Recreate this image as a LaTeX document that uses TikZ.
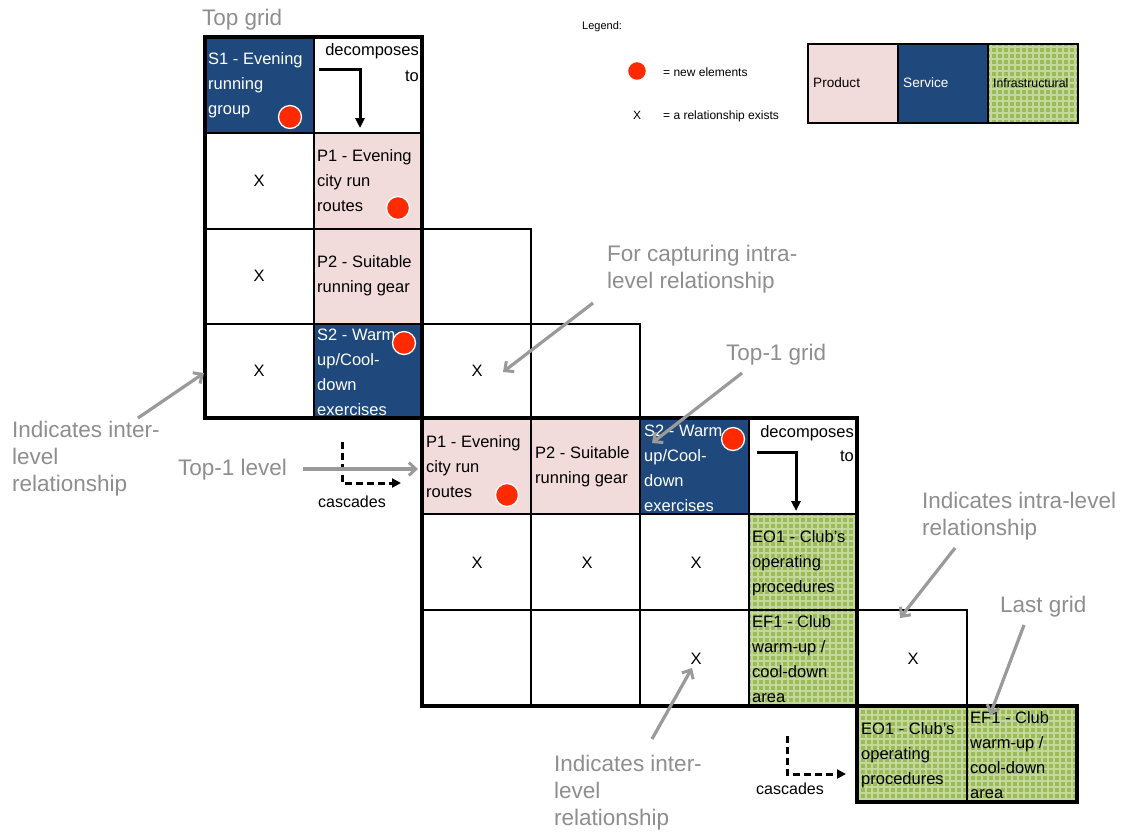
\documentclass[tikz,border=0pt]{standalone}
\usepackage{fontspec}
\setmainfont{Liberation Sans}
\usetikzlibrary{arrows.meta}

\definecolor{svcblue}{HTML}{1F497D}
\definecolor{prodpink}{HTML}{F2DCDB}
\definecolor{infragreen}{HTML}{9BBB59}
\definecolor{infralight}{HTML}{C4D89C}
\definecolor{dotred}{HTML}{FF2A00}
\definecolor{notegray}{HTML}{8E8E8E}
\definecolor{arrowgray}{HTML}{9A9A9A}

% green hatched fill used for infrastructural elements
\newcommand\infrafill[4]{%
  \fill[infragreen] (#1,#2) rectangle (#3,#4);
  \begin{scope}
    \clip (#1,#2) rectangle (#3,#4);
    \foreach \k in {0,...,19} {
      \draw[infralight, line width=1.4pt] ({#1+3+6*\k},#2) -- ({#1+3+6*\k},#4);
      \draw[infralight, line width=1.4pt] (#1,{#2+3+6*\k}) -- (#3,{#2+3+6*\k});
    }
  \end{scope}}

\tikzset{
  thinline/.style={draw=black, line width=1.1pt},
  midline/.style={draw=black, line width=2.6pt},
  gridborder/.style={draw=black, line width=3.8pt},
  celltext/.style={anchor=west, align=left, inner sep=0pt,
    font=\fontsize{16.5}{25}\selectfont},
  svctext/.style={celltext, text=white},
  relx/.style={inner sep=0pt, font=\fontsize{16.5}{20}\selectfont},
  newdot/.style={circle, fill=dotred, draw=white, line width=1.3pt,
    minimum size=23pt, inner sep=0pt},
  note/.style={anchor=west, align=left, inner sep=0pt, text=notegray,
    font=\fontsize{22.5}{27}\selectfont},
  notearrow/.style={draw=arrowgray, line width=3.2pt,
    -{Straight Barb[length=7pt, width=13pt, line width=3pt]}},
  decomparrow/.style={draw=black, line width=3pt,
    -{Triangle[length=10pt, width=9pt]}},
  cascarrow/.style={draw=black, line width=3pt, dash pattern=on 7pt off 4pt,
    -{Triangle[length=9pt, width=9pt]}},
  smalltext/.style={inner sep=0pt, font=\fontsize{16}{19}\selectfont},
  legtext/.style={anchor=west, inner sep=0pt, font=\fontsize{12}{14}\selectfont},
}

\begin{document}
\begin{tikzpicture}[x=1pt, y=-1pt]
\useasboundingbox (0,0) rectangle (1129,831);
\fill[white] (0,0) rectangle (1129,831);

% ---------------- top grid ----------------
\fill[svcblue] (205,37) rectangle (314,133);
\fill[prodpink] (314,133) rectangle (422,229);
\fill[prodpink] (314,229) rectangle (422,324);
\fill[svcblue] (314,324) rectangle (422,418);
\draw[thinline] (314,37) -- (314,418);
\draw[thinline] (205,229) -- (531,229) -- (531,418);
\draw[thinline] (205,324) -- (640,324) -- (640,418) -- (422,418);
\draw[midline] (205,133) -- (422,133);
\draw[gridborder] (205,37) rectangle (422,418);

% ---------------- top-1 grid ----------------
\fill[prodpink] (422,418) rectangle (531,514);
\fill[prodpink] (531,418) rectangle (640,514);
\fill[svcblue] (640,418) rectangle (749,514);
\infrafill{749}{514}{857}{610}
\infrafill{749}{610}{857}{706}
\draw[thinline] (531,418) -- (531,706);
\draw[thinline] (640,418) -- (640,706);
\draw[thinline] (749,418) -- (749,706);
\draw[thinline] (422,610) -- (967,610) -- (967,706);
\draw[midline] (422,514) -- (857,514);
\draw[gridborder] (422,418) rectangle (857,706);

% ---------------- last grid ----------------
\infrafill{857}{706}{967}{802}
\infrafill{967}{706}{1077}{802}
\draw[thinline] (967,706) -- (967,802);
\draw[gridborder] (857,706) rectangle (1077,802);

% ---------------- legend ----------------
\fill[prodpink] (808,44) rectangle (898,123);
\fill[svcblue] (898,44) rectangle (988,123);
\infrafill{988}{44}{1078}{123}
\draw[draw=black, line width=1.5pt] (808,44) rectangle (1078,123);
\draw[draw=black, line width=1.5pt] (898,44) -- (898,123);
\draw[draw=black, line width=1.5pt] (988,44) -- (988,123);
\node[legtext] (legtitle) at (582,27) {\fontsize{11}{13}\selectfont Legend:};
\node[newdot, minimum size=19pt] (legdot) at (637,71) {};
\node[legtext] (legnew) at (663,72) {= new elements};
\node[inner sep=0pt, font=\fontsize{12}{14}\selectfont] (legx) at (637,115) {X};
\node[legtext] (legrel) at (663,116) {= a relationship exists};
\node[legtext, font=\fontsize{13.6}{16}\selectfont] (legprod) at (813,83) {Product};
\node[legtext, font=\fontsize{13.6}{16}\selectfont, text=white] (legsvc) at (903,83) {Service};
\node[legtext, font=\fontsize{12.3}{15}\selectfont] (leginfra) at (993,83) {Infrastructural};

% ---------------- top grid texts ----------------
\node[svctext] (tS1) at (208,85) {S1 - Evening\\running\\group};
\node[anchor=north east, align=right, inner sep=0pt,
  font=\fontsize{16.5}{26}\selectfont] (tdec) at (419,43) {decomposes\\to};
\node[celltext] (tP1) at (317,181) {P1 - Evening\\city run\\routes};
\node[celltext] (tP2) at (317,276) {P2 - Suitable\\running gear};
\node[svctext] (tS2) at (317,372) {S2 - Warm\\up/Cool-\\down\\exercises};
\node[relx] (tx1) at (259,181) {X};
\node[relx] (tx2) at (259,276) {X};
\node[relx] (tx3) at (259,371) {X};
\node[relx] (tx4) at (477,371) {X};
\node[newdot] (dS1) at (290,117) {};
\node[newdot] (dP1) at (398,208) {};
\node[newdot] (dS2) at (404,343) {};
\coordinate (decA) at (319,69);
\coordinate (decB) at (360,128);
\draw[decomparrow] (decA) -| (decB);

% ---------------- top-1 grid texts ----------------
\node[celltext] (mP1) at (426,467) {P1 - Evening\\city run\\routes};
\node[celltext] (mP2) at (535,467) {P2 - Suitable\\running gear};
\node[svctext] (mS2) at (644,468) {S2 - Warm\\up/Cool-\\down\\exercises};
\node[anchor=north east, align=right, inner sep=0pt,
  font=\fontsize{16.5}{24}\selectfont] (mdec) at (854,425) {decomposes\\to};
\node[celltext] (mEO1) at (752,563) {EO1 - Club's\\operating\\procedures};
\node[celltext] (mEF1) at (752,659) {EF1 - Club\\warm-up /\\cool-down\\area};
\node[relx] (mx1) at (477,563) {X};
\node[relx] (mx2) at (587,563) {X};
\node[relx] (mx3) at (696,563) {X};
\node[relx] (mx4) at (696,659) {X};
\node[relx] (mx5) at (913,659) {X};
\node[newdot] (mdP1) at (507,495) {};
\node[newdot] (mdS2) at (733,439) {};
\coordinate (mdecA) at (757,452);
\coordinate (mdecB) at (796,511);
\draw[decomparrow] (mdecA) -| (mdecB);

% ---------------- last grid texts ----------------
\node[celltext] (lEO1) at (861,755) {EO1 - Club's\\operating\\procedures};
\node[celltext] (lEF1) at (970,755) {EF1 - Club\\warm-up /\\cool-down\\area};

% ---------------- cascade markers ----------------
\coordinate (casA) at (342,442);
\coordinate (casB) at (401,483);
\draw[cascarrow] (casA) |- (casB);
\node[smalltext] (casT) at (352,502) {cascades};
\coordinate (lcasA) at (787,736);
\coordinate (lcasB) at (846,774);
\draw[cascarrow] (lcasA) |- (lcasB);
\node[smalltext] (lcasT) at (790,789) {cascades};

% ---------------- annotations ----------------
\node[note] (nTop) at (202,20) {Top grid};
\node[note] (nIntra) at (607,269) {For capturing intra-\\level relationship};
\node[note] (nTop1) at (726,355) {Top-1 grid};
\node[note] (nInterL) at (12,459) {Indicates inter-\\level\\relationship};
\node[note] (nLevel) at (178,470) {Top-1 level};
\node[note] (nIntraR) at (922,516) {Indicates intra-level\\relationship};
\node[note] (nLast) at (1000,607) {Last grid};
\node[note] (nInterB) at (554,793) {Indicates inter-\\level\\relationship};

\coordinate (a1s) at (138,418);  \coordinate (a1e) at (204,373);
\coordinate (a2s) at (593,303);  \coordinate (a2e) at (503,372);
\coordinate (a3s) at (742,373);  \coordinate (a3e) at (652,443);
\coordinate (a4s) at (303,469);  \coordinate (a4e) at (418,469);
\coordinate (a5s) at (955,548);  \coordinate (a5e) at (900,618);
\coordinate (a6s) at (1024,625); \coordinate (a6e) at (990,715);
\coordinate (a7s) at (652,739);  \coordinate (a7e) at (692,668);
\draw[notearrow] (a1s) -- (a1e);
\draw[notearrow] (a2s) -- (a2e);
\draw[notearrow] (a3s) -- (a3e);
\draw[notearrow] (a4s) -- (a4e);
\draw[notearrow] (a5s) -- (a5e);
\draw[notearrow] (a6s) -- (a6e);
\draw[notearrow] (a7s) -- (a7e);
\end{tikzpicture}
\end{document}
